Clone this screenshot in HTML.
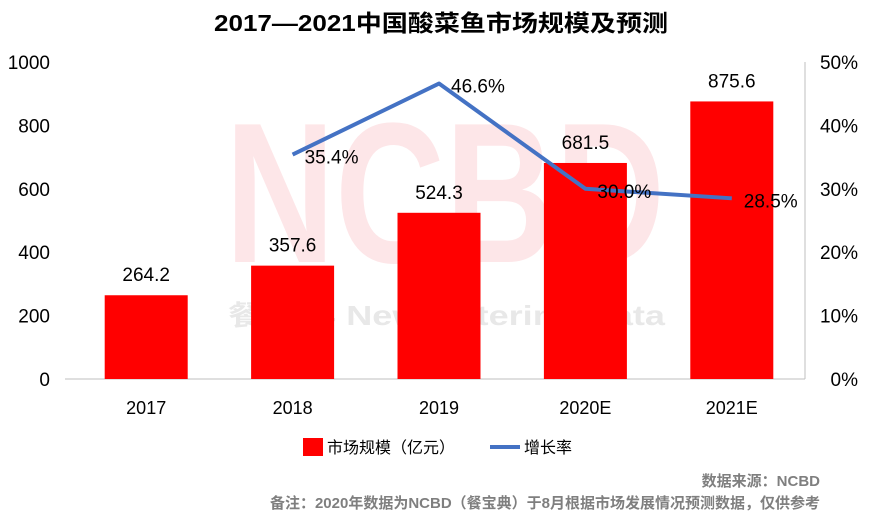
<!DOCTYPE html>
<html><head><meta charset="utf-8"><style>
body{margin:0;background:#fff;}
svg text{font-family:"Liberation Sans","Noto Sans CJK SC",sans-serif;}
</style></head><body>
<svg id="chart" width="882" height="522" viewBox="0 0 882 522" xmlns="http://www.w3.org/2000/svg">
<text x="214" y="31" textLength="454" lengthAdjust="spacingAndGlyphs" font-size="23" font-weight="bold" fill="#000">2017—2021中国酸菜鱼市场规模及预测</text>
<g>
<text x="225" y="262" textLength="440" lengthAdjust="spacingAndGlyphs" font-size="200" font-weight="bold" fill="#fde6e8">NCBD</text>
<text x="228" y="325" textLength="437" lengthAdjust="spacingAndGlyphs" font-size="28" fill="#e8e8e8" font-weight="bold">餐宝典 New Catering Data</text>
</g>
<g id="axes"></g>
<g id="bars"></g>
<g id="line"></g>
<g id="labels"></g>
<g>
<rect x="303" y="438" width="20" height="18" fill="#ff0000"/>
<text x="327" y="453" font-size="16">市场规模（亿元）</text>
<line x1="490" y1="447" x2="520" y2="447" stroke="#4472c4" stroke-width="4"/>
<text x="524" y="453" font-size="16">增长率</text>
</g>
<text x="820" y="486" text-anchor="end" font-size="15" font-weight="bold" fill="#7f7f7f">数据来源：NCBD</text>
<text x="820" y="508" text-anchor="end" font-size="15" font-weight="bold" fill="#7f7f7f">备注：2020年数据为NCBD（餐宝典）于8月根据市场发展情况预测数据，仅供参考</text>
</svg>
<script>
const categories=["2017","2018","2019","2020E","2021E"];
const marketValues=[264.2,357.6,524.3,681.5,875.6];
const growthValues=[null,35.4,46.6,30.0,28.5];
const leftTicks=[0,200,400,600,800,1000];
const rightTicks=[0,10,20,30,40,50];
const NS="http://www.w3.org/2000/svg";
const x0=73,x1=805,yB=379,yT=62;
const band=(x1-x0)/categories.length;
const xc=i=>x0+band*(i+0.5);
const yL=v=>yB-(v/1000)*(yB-yT);
const yR=v=>yB-(v/50)*(yB-yT);
function mk(p,tag,a,t){const e=document.createElementNS(NS,tag);for(const k in a)e.setAttribute(k,a[k]);if(t!=null)e.textContent=t;document.getElementById(p).appendChild(e);return e;}
let e=mk("axes","line",{x1:65,y1:yB,x2:x1,y2:yB,stroke:"#bfbfbf","stroke-width":1});


e=mk("axes","line",{x1:x1,y1:yT,x2:x1,y2:yB,stroke:"#bfbfbf","stroke-width":1});


leftTicks.forEach(v=>{const t=mk("axes","text",{x:50,y:yL(v)+7,"text-anchor":"end","font-size":19},v);

});
rightTicks.forEach(v=>{const t=mk("axes","text",{x:858,y:yR(v)+7,"text-anchor":"end","font-size":19},v+"%");

});
categories.forEach((c,i)=>{const t=mk("axes","text",{x:xc(i),y:414,"text-anchor":"middle","font-size":18},c);

});
const bw=83;
marketValues.forEach((v,i)=>{const r=mk("bars","rect",{x:xc(i)-bw/2,y:yL(v),width:bw,height:yB-yL(v),fill:"#ff0000"});


const t=mk("labels","text",{x:xc(i),y:yL(v)-14,"text-anchor":"middle","font-size":19},v.toFixed(1));

});
const pts=[];growthValues.forEach((v,i)=>{if(v!=null)pts.push([xc(i),yR(v),v]);});
const pl=mk("line","polyline",{points:pts.map(p=>p[0]+","+p[1]).join(" "),fill:"none",stroke:"#4472c4","stroke-width":4,"stroke-linejoin":"round"});


pts.forEach(p=>{const t=mk("labels","text",{x:p[0]+12,y:p[1]+9,"font-size":19},p[2].toFixed(1)+"%");

});
</script>
</body></html>
